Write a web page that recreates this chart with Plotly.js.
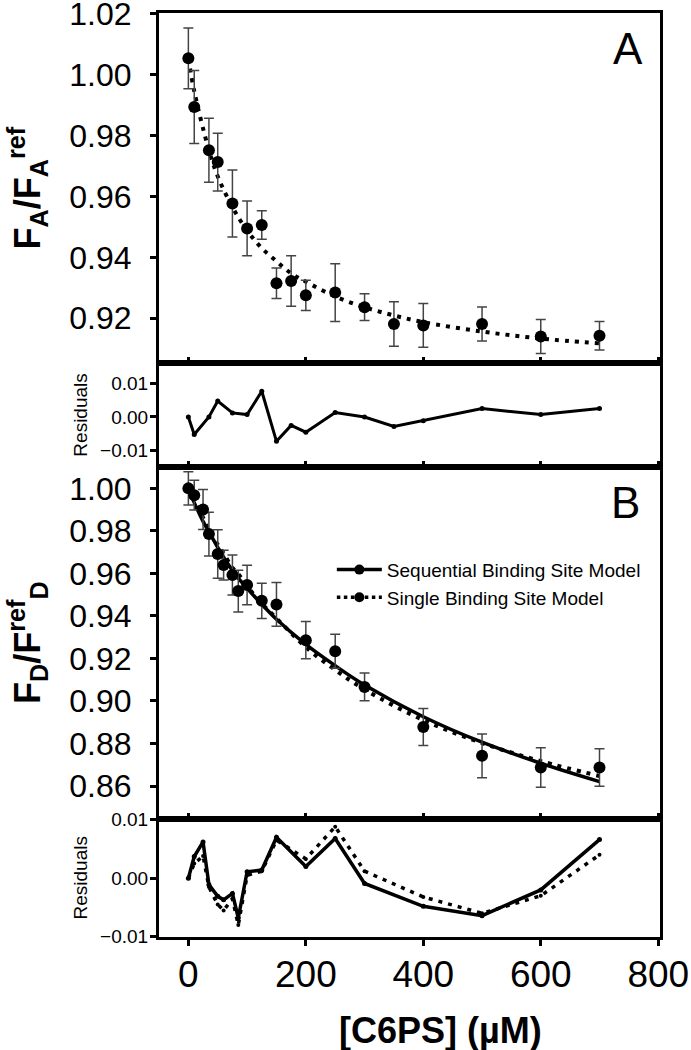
<!DOCTYPE html>
<html><head><meta charset="utf-8">
<script src="https://cdn.plot.ly/plotly-3.0.1.min.js"></script>
<style>html,body{margin:0;padding:0;background:#fff}#chart{width:691px;height:1050px}</style>
</head><body><div id="chart"></div>
<script>
// ---- Panel A data ----
const xA = [0,10,35,50,75,100,125,150,175,200,250,300,350,400,500,600,700];
const yA = [1.0054,0.9894,0.9752,0.9713,0.9577,0.9495,0.9506,0.9315,0.9322,0.9275,0.9284,0.9236,0.9181,0.9176,0.9181,0.9140,0.9142];
const errA = [0.010,0.012,0.0105,0.0095,0.011,0.009,0.0047,0.005,0.0083,0.005,0.0095,0.0044,0.0073,0.0072,0.0056,0.0056,0.0047];
const fitA = [1.0054,0.9946,0.9752,0.9666,0.9565,0.9488,0.9430,0.9387,0.9347,0.9320,0.9271,0.9236,0.9209,0.9187,0.9156,0.9133,0.9117];
const resA = [0,-0.0052,0,0.0047,0.0012,0.0007,0.0076,-0.0072,-0.0025,-0.0045,0.0013,0,-0.0028,-0.0011,0.0025,0.0007,0.0025];
// ---- Panel B data ----
const xB = [0,10,25,35,50,60,75,85,100,125,150,200,250,300,400,500,600,700];
const yB = [1.000,0.9968,0.9901,0.9785,0.9691,0.9639,0.9592,0.9517,0.9545,0.9471,0.9454,0.9286,0.9234,0.9066,0.8878,0.8742,0.8687,0.8687];
const errB = [0.0078,0.007,0.0094,0.0103,0.0114,0.007,0.0094,0.0098,0.0093,0.0083,0.0103,0.0088,0.008,0.0065,0.0087,0.0103,0.0093,0.0088];
const fitSeq = [1.000,0.9933,0.9845,0.9796,0.9722,0.9676,0.9614,0.9578,0.9530,0.9455,0.9384,0.9266,0.9166,0.9075,0.8926,0.8806,0.8707,0.8621];
const fitSingle = [1.000,0.9943,0.9863,0.9800,0.9736,0.9694,0.9627,0.9597,0.9540,0.9459,0.9389,0.9253,0.9146,0.9054,0.8910,0.8802,0.8717,0.8647];
const resSeq = [0,0.0037,0.0062,-0.0011,-0.0031,-0.0037,-0.0026,-0.0068,0.0011,0.0014,0.0070,0.0020,0.0068,-0.0009,-0.0048,-0.0064,-0.0020,0.0066];
const resSingle = [0,0.0025,0.0038,-0.0015,-0.0045,-0.0055,-0.0035,-0.0080,0.0005,0.0012,0.0065,0.0033,0.0088,0.0012,-0.0032,-0.0060,-0.0030,0.0040];
const legendNames = ['Sequential Binding Site Model','Single Binding Site Model'];

const FONT = 'Liberation Sans, Arial, Helvetica, sans-serif';
const DOT = '4px,6px';

const traces = [
  // Panel A
  {x:xA, y:fitA, xaxis:'x', yaxis:'y', mode:'lines', line:{color:'#000', width:4, dash:DOT, shape:'spline'}, showlegend:false},
  {x:xA, y:yA, xaxis:'x', yaxis:'y', mode:'markers', marker:{color:'#000', size:12},
   error_y:{type:'data', array:errA, visible:true, color:'#444', thickness:1.5, width:5}, showlegend:false},
  // Residuals A
  {x:xA, y:resA, xaxis:'x2', yaxis:'y2', mode:'lines+markers', line:{color:'#000', width:3}, marker:{color:'#000', size:5}, showlegend:false},
  // Panel B
  {x:xB, y:fitSingle, xaxis:'x3', yaxis:'y3', mode:'lines', line:{color:'#000', width:4, dash:DOT, shape:'spline'}, showlegend:false},
  {x:xB, y:fitSeq, xaxis:'x3', yaxis:'y3', mode:'lines', line:{color:'#000', width:3.5, shape:'spline'}, showlegend:false},
  {x:xB, y:yB, xaxis:'x3', yaxis:'y3', mode:'markers', marker:{color:'#000', size:12},
   error_y:{type:'data', array:errB, visible:true, color:'#444', thickness:1.5, width:5}, showlegend:false},
  // Residuals B
  {x:xB, y:resSingle, xaxis:'x4', yaxis:'y4', mode:'lines+markers', line:{color:'#000', width:3.5, dash:DOT}, marker:{color:'#000', size:4}, showlegend:false},
  {x:xB, y:resSeq, xaxis:'x4', yaxis:'y4', mode:'lines+markers', line:{color:'#000', width:3.5}, marker:{color:'#000', size:5}, showlegend:false},
  // legend entries
  {x:[null], y:[null], xaxis:'x3', yaxis:'y3', name:legendNames[0], mode:'lines+markers', line:{color:'#000', width:3.5}, marker:{color:'#000', size:10}},
  {x:[null], y:[null], xaxis:'x3', yaxis:'y3', name:legendNames[1], mode:'lines+markers', line:{color:'#000', width:3.5, dash:'dot'}, marker:{color:'#000', size:10}}
];

function xax(anchor, bottom){
  return {anchor:anchor, range:[-50,803], tick0:0, dtick:200, showgrid:false, zeroline:false,
    showline:true, mirror:true, linewidth:3, linecolor:'#000',
    ticks: bottom ? 'outside' : 'inside', ticklen:6, tickwidth:3, tickcolor:'#000',
    showticklabels: !!bottom, tickfont:{family:FONT, size:37, color:'#000'}, ticklabelstandoff: -3,
    ticklabeloverflow:'allow', matches: anchor==='y' ? undefined : 'x'};
}
function yax(domain, range, tickvals, fs, standoff){
  return {domain:domain, range:range, tickvals:tickvals, tickformat:'.2f', showgrid:false, zeroline:false,
    showline:true, mirror:true, linewidth:3, linecolor:'#000', ticks:'outside', ticklen:6, tickwidth:3, tickcolor:'#000',
    tickfont:{family:FONT, size:fs, color:'#000'}, ticklabelstandoff: standoff, ticklabeloverflow:'allow'};
}

const layout = {
  width:691, height:1050, paper_bgcolor:'#fff', plot_bgcolor:'#fff',
  margin:{l:159, r:31, t:13, b:113},
  font:{family:FONT, color:'#000'},
  xaxis: xax('y', false),
  xaxis2: xax('y2', false),
  xaxis3: xax('y3', false),
  xaxis4: xax('y4', true),
  yaxis: Object.assign(yax([0.6210,1], [0.9052,1.0203], [0.92,0.94,0.96,0.98,1.00,1.02], 32, 12),
    {title:{text:'<b>F<sub>A</sub>/F<sub>A</sub><sup>ref</sup></b>', font:{family:FONT, size:36, color:'#000'}, standoff:18}}),
  yaxis2: Object.assign(yax([0.5090,0.6210], [-0.0147,0.0159], [-0.01,0,0.01], 19, -2),
    {title:{text:'Residuals', font:{family:FONT, size:19, color:'#000'}, standoff:8}}),
  yaxis3: Object.assign(yax([0.1282,0.5090], [0.8447,1.0102], [0.86,0.88,0.90,0.92,0.94,0.96,0.98,1.00], 32, 12),
    {title:{text:'<b>F<sub>D</sub>/F<sup>ref</sup><sub>D</sub></b>', font:{family:FONT, size:36, color:'#000'}, standoff:18}}),
  yaxis4: Object.assign(yax([0,0.1282], [-0.01005,0.0102], [-0.01,0,0.01], 19, -2),
    {title:{text:'Residuals', font:{family:FONT, size:19, color:'#000'}, standoff:8}}),
  showlegend:true,
  legend:{x:0.345, y:0.418, xanchor:'left', yanchor:'top', bgcolor:'rgba(0,0,0,0)', borderwidth:0,
    font:{family:FONT, size:19, color:'#000'}, itemwidth:45, tracegroupgap:0},
  annotations:[
    {text:'A', xref:'x domain', yref:'y domain', x:0.970, y:0.898, xanchor:'right', yanchor:'middle', showarrow:false, font:{family:FONT, size:44, color:'#000'}},
    {text:'B', xref:'x3 domain', yref:'y3 domain', x:0.964, y:0.897, xanchor:'right', yanchor:'middle', showarrow:false, font:{family:FONT, size:44, color:'#000'}},
    {text:'<b>[C6PS] (µM)</b>', xref:'paper', yref:'paper', x:(440-159)/501, y:-(1030-936.7)/923.4, xanchor:'center', yanchor:'middle', showarrow:false, font:{family:FONT, size:36, color:'#000'}}
  ]
};

Plotly.newPlot('chart', traces, layout, {displayModeBar:false, staticPlot:true});
</script>
</body></html>
